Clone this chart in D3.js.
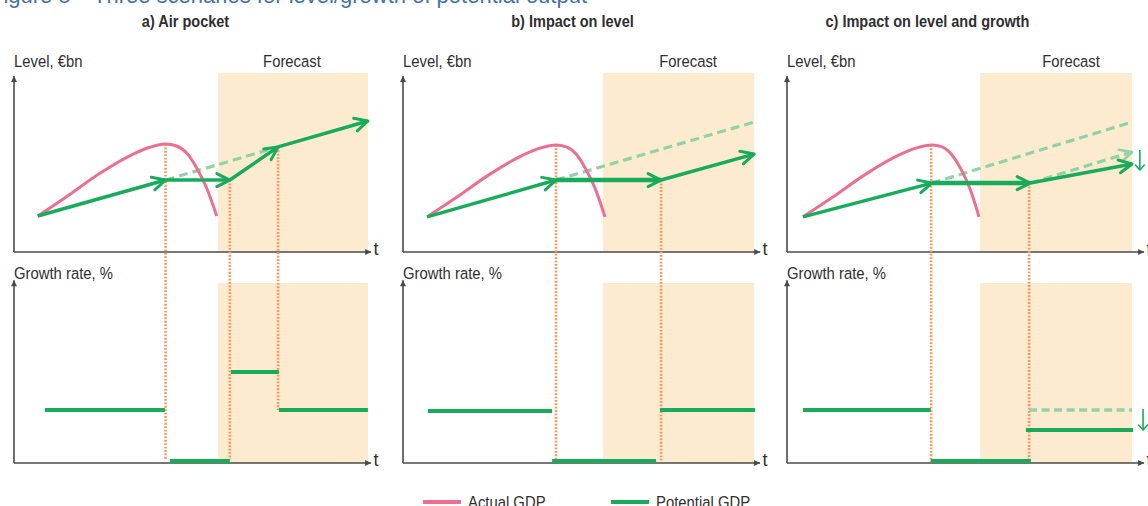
<!DOCTYPE html>
<html><head><meta charset="utf-8">
<script src="https://cdn.jsdelivr.net/npm/d3@7"></script>
<style>
body{margin:0;background:#fff;overflow:hidden;}
svg{display:block;font-family:"Liberation Sans",Arial,sans-serif;}
</style></head><body>
<svg id="c" width="1148" height="506"></svg>
<script>
// ---------- DATA (t: time units 0-100, level / growth: units 0-100) ----------
const figureTitle = "Figure 5";
const figureSubtitle = "Three scenarios for level/growth of potential output";
const panelTitles = ["a) Air pocket", "b) Impact on level", "c) Impact on level and growth"];
const levelLabel = "Level, €bn";
const growthLabel = "Growth rate, %";
const forecastLabel = "Forecast";
const timeLabel = "t";
const legendLabels = ["Actual GDP", "Potential GDP"];

const forecastStart = [57.5, 56.3, 54.4];
const forecastEnd = [99.7, 98.9, 97.2];
const forecastLabelT = [78.3, 80.3, 80.0];

// Actual GDP curves
const actualT_A = [6.7, 14.8, 24.2, 33.6, 38.3, 42.7, 45.8, 48.7, 51.5, 54.3, 57.1];
const actualL_A = [20.1, 30.9, 44.0, 54.7, 58.5, 60.3, 59.2, 55.1, 46.8, 35.6, 20.1];
const actualT_B = [6.8, 15.0, 24.5, 33.9, 38.6, 43.1, 46.0, 48.8, 51.5, 54.2, 56.9];
const actualL_B = [19.6, 30.4, 43.5, 54.2, 58.0, 59.8, 58.7, 54.6, 46.3, 35.1, 19.6];
const actualT_C = [4.5, 12.7, 22.2, 31.6, 36.3, 40.8, 43.7, 46.3, 49.0, 51.6, 54.1];
const actualL_C = [19.6, 30.4, 43.5, 54.2, 58.0, 59.8, 58.7, 54.6, 46.3, 35.1, 19.6];

// Potential GDP level paths [t, level]
const potentialA = [[6.7, 20.1], [42.7, 40.2], [60.8, 40.2], [74.4, 58.7], [99.7, 73.2]];
const potentialB = [[6.8, 19.6], [43.1, 40.2], [72.7, 40.2], [98.9, 54.7]];
const potentialC = [[4.5, 19.6], [40.8, 38.5], [68.5, 38.5], [97.2, 49.2]];

// Pre-crisis trend (dashed)
const trendA = [[42.7, 40.2], [74.4, 58.7]];
const trendB = [[43.1, 40.2], [98.9, 72.6]];
const trendC = [[40.8, 38.5], [97.2, 72.6]];
// Level-only trend in panel c (dashed, with arrow)
const levelShiftC = [[68.5, 38.5], [97.2, 55.9]];

// Growth segments [t0, t1, growth]
const growthA = [[8.7, 42.5, 29.4], [43.9, 60.8, 1.1], [61.1, 74.6, 50.6], [74.6, 99.7, 29.4]];
const growthB = [[7.0, 42.0, 28.9], [42.0, 71.3, 1.1], [72.4, 99.2, 29.4]];
const growthC = [[4.5, 40.5, 29.4], [40.5, 68.7, 1.1], [67.3, 97.5, 18.3]];
const growthOldC = [[68.2, 97.2, 29.4]];

// Vertical guide lines [t, level from, growth to]
const guidesA = [[42.7, 60.3, 1.5], [60.8, 40.2, 2.0], [74.4, 58.7, 29.4]];
const guidesB = [[43.1, 59.8, 0.5], [72.7, 40.2, 1.5]];
const guidesC = [[40.6, 59.8, 0.5], [68.2, 38.5, 1.5]];

// Down arrows in panel c: [t, from, to]
const downLevelC = [99.4, 57.0, 45.8];
const downGrowthC = [100.3, 30.0, 18.3];

// ---------- STYLE / LAYOUT ----------
const C = {
  pink: "#ec6f91", green: "#19ab5c", light: "#92d2a6", orange: "#f6955c",
  shade: "#fdebd0", axis: "#4a4a4a", text: "#2f2f2f", blue: "#4571a8"
};
const panelX = [14, 403, 787];
const panelTitleX = [185.5, 572.5, 927.5];
const W = 355;
const SX = 0.9; // condensed look

const svg = d3.select("#c");
const defs = svg.append("defs");

function txt(parent, x, y, str, o = {}) {
  return parent.append("text")
    .attr("transform", `translate(${x},${y}) scale(${o.sx || SX},1)`)
    .attr("text-anchor", o.anchor || "start")
    .attr("font-size", o.size || 16.5)
    .attr("font-weight", o.bold ? "bold" : null)
    .attr("fill", o.fill || C.text)
    .text(str);
}

function marker(id, color, len, half, sw) {
  defs.append("marker").attr("id", id)
    .attr("viewBox", `${-len - 4} ${-half - 4} ${len + 8} ${2 * half + 8}`)
    .attr("refX", 0).attr("refY", 0)
    .attr("markerWidth", len + 8).attr("markerHeight", 2 * half + 8)
    .attr("markerUnits", "userSpaceOnUse").attr("orient", "auto")
    .append("path").attr("d", `M${-len},${-half}L0,0L${-len},${half}`)
    .attr("fill", "none").attr("stroke", color).attr("stroke-width", sw)
    .attr("stroke-linecap", "round").attr("stroke-linejoin", "round");
}
marker("arG", C.green, 13, 6.5, 3);
marker("arL", C.light, 12, 6, 2.6);
marker("arS", C.green, 5, 4.5, 1.6);
defs.append("marker").attr("id", "axA")
  .attr("viewBox", "-8 -5 10 10").attr("refX", 0).attr("refY", 0)
  .attr("markerWidth", 10).attr("markerHeight", 10)
  .attr("markerUnits", "userSpaceOnUse").attr("orient", "auto")
  .append("path").attr("d", "M-6,-3L0,0L-6,3Z").attr("fill", C.axis);

// figure title (cut off at top, as in the source)
txt(svg, -10, 3, figureTitle, { size: 22, fill: C.blue, sx: 1 });
txt(svg, 93, 3, figureSubtitle, { size: 22, fill: C.blue, sx: 1 });

const actualT = [actualT_A, actualT_B, actualT_C];
const actualL = [actualL_A, actualL_B, actualL_C];
const potentials = [potentialA, potentialB, potentialC];
const trends = [trendA, trendB, trendC];
const growths = [growthA, growthB, growthC];
const guides = [guidesA, guidesB, guidesC];

const yL = d3.scaleLinear().domain([0, 100]).range([252, 73]);
const yG = d3.scaleLinear().domain([0, 100]).range([463, 283]);

panelTitles.forEach((title, i) => {
  const ox = panelX[i];
  const x = d3.scaleLinear().domain([0, 100]).range([ox, ox + W]);
  const g = svg.append("g");

  txt(g, panelTitleX[i], 27, title, { anchor: "middle", bold: true, sx: 0.88 });

  // forecast shading
  [yL, yG].forEach(ys => {
    g.append("rect").attr("x", x(forecastStart[i])).attr("width", x(forecastEnd[i]) - x(forecastStart[i]))
      .attr("y", ys(100)).attr("height", ys(0) - ys(100)).attr("fill", C.shade);
  });

  // labels
  txt(g, ox, 67, levelLabel);
  txt(g, x(forecastLabelT[i]), 67, forecastLabel, { anchor: "middle" });
  txt(g, ox, 279, growthLabel);

  // axes
  const xAxis = d3.axisBottom(x).ticks(0).tickSizeOuter(0);
  [yL, yG].forEach(ys => {
    const ax = g.append("g").attr("transform", `translate(0,${ys(0)})`).call(xAxis);
    ax.select(".domain").attr("stroke", C.axis).attr("stroke-width", 1.6).attr("marker-end", "url(#axA)")
      .attr("d", `M${ox},0H${x(100.6)}`);
    txt(g, x(101.3), ys(0) + 3, timeLabel, { size: 18, sx: 1 });
  });
  const yAxisL = d3.axisLeft(yL).ticks(0).tickSizeOuter(0);
  const yAxisG = d3.axisLeft(yG).ticks(0).tickSizeOuter(0);
  g.append("g").attr("transform", `translate(${ox},0)`).call(yAxisL).select(".domain")
    .attr("stroke", C.axis).attr("stroke-width", 1.6).attr("marker-end", "url(#axA)")
    .attr("d", `M0,${yL(0)}V${yL(98.3)}`);
  g.append("g").attr("transform", `translate(${ox},0)`).call(yAxisG).select(".domain")
    .attr("stroke", C.axis).attr("stroke-width", 1.6).attr("marker-end", "url(#axA)")
    .attr("d", `M0,${yG(0)}V${yG(101.5)}`);

  // guide lines
  guides[i].forEach(([t, l, gr]) => {
    g.append("line").attr("x1", x(t)).attr("x2", x(t)).attr("y1", yL(l)).attr("y2", yG(gr))
      .attr("stroke", C.orange).attr("stroke-width", 2.6).attr("stroke-dasharray", "1.8,1.6");
  });

  // growth lines
  if (i === 2) {
    growthOldC.forEach(([t0, t1, v]) => {
      g.append("line").attr("x1", x(t0)).attr("x2", x(t1)).attr("y1", yG(v)).attr("y2", yG(v))
        .attr("stroke", C.light).attr("stroke-width", 3.5).attr("stroke-dasharray", "8,4.5");
    });
  }
  growths[i].forEach(([t0, t1, v]) => {
    g.append("line").attr("x1", x(t0)).attr("x2", x(t1)).attr("y1", yG(v)).attr("y2", yG(v))
      .attr("stroke", C.green).attr("stroke-width", 4);
  });

  const line = d3.line().x(d => x(d[0])).y(d => yL(d[1]));

  // trend dashed
  g.append("path").attr("d", line(trends[i])).attr("fill", "none")
    .attr("stroke", C.light).attr("stroke-width", 3.2).attr("stroke-dasharray", "9,5");
  if (i === 2) {
    g.append("path").attr("d", line(levelShiftC)).attr("fill", "none")
      .attr("stroke", C.light).attr("stroke-width", 3.2).attr("stroke-dasharray", "9,5")
      .attr("marker-end", "url(#arL)");
  }

  // actual GDP
  const pts = actualT[i].map((t, k) => [t, actualL[i][k]]);
  g.append("path").attr("d", line.curve(d3.curveMonotoneX)(pts)).attr("fill", "none")
    .attr("stroke", C.pink).attr("stroke-width", 3);
  line.curve(d3.curveLinear);

  // potential GDP segments
  const p = potentials[i];
  for (let k = 0; k < p.length - 1; k++) {
    const horiz = p[k][1] === p[k + 1][1];
    g.append("path").attr("d", line([p[k], p[k + 1]])).attr("fill", "none")
      .attr("stroke", C.green).attr("stroke-width", horiz && i > 0 ? 4.5 : 3.5)
      .attr("marker-end", "url(#arG)");
  }

  // down arrows (panel c)
  if (i === 2) {
    g.append("line").attr("x1", x(downLevelC[0])).attr("x2", x(downLevelC[0]))
      .attr("y1", yL(downLevelC[1])).attr("y2", yL(downLevelC[2]))
      .attr("stroke", C.green).attr("stroke-width", 1.6).attr("marker-end", "url(#arS)");
    g.append("line").attr("x1", x(downGrowthC[0])).attr("x2", x(downGrowthC[0]))
      .attr("y1", yG(downGrowthC[1])).attr("y2", yG(downGrowthC[2]))
      .attr("stroke", C.green).attr("stroke-width", 1.6).attr("marker-end", "url(#arS)");
  }
});

// legend
const legendX = [423, 611];
const legendColors = [C.pink, C.green];
legendLabels.forEach((lab, k) => {
  svg.append("line").attr("x1", legendX[k]).attr("x2", legendX[k] + 38).attr("y1", 502).attr("y2", 502)
    .attr("stroke", legendColors[k]).attr("stroke-width", 4);
  txt(svg, legendX[k] + 45, 508, lab);
});
</script>
</body></html>
